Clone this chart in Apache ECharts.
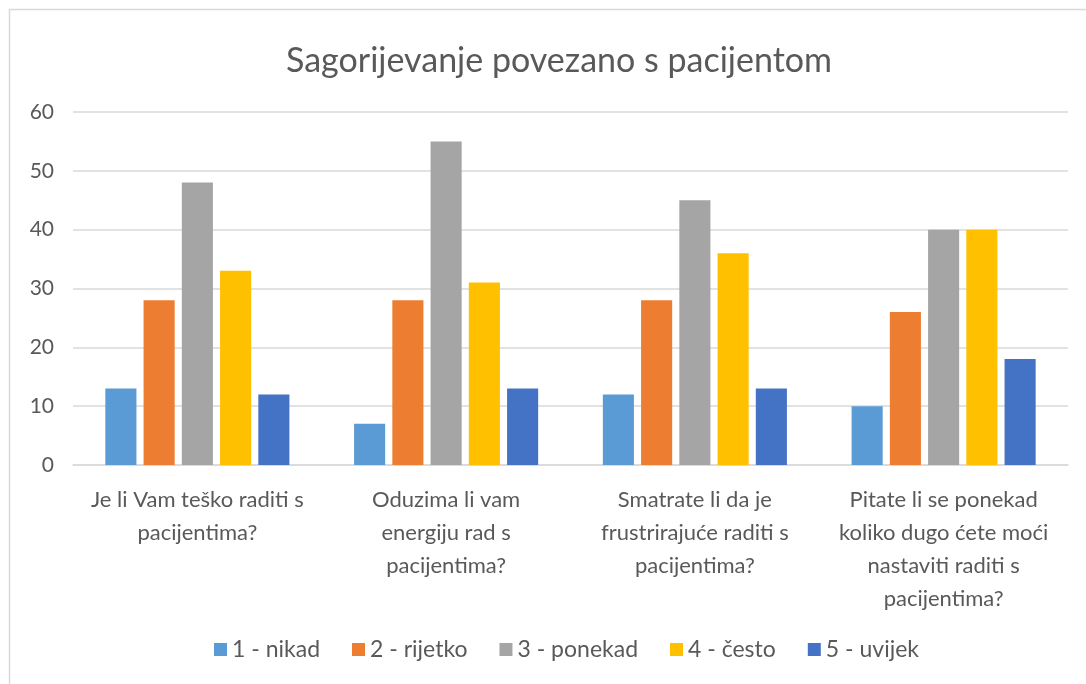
<!DOCTYPE html>
<html lang="hr">
<head>
    <meta charset="UTF-8">
    <title>Sagorijevanje povezano s pacijentom</title>
    <script src="https://cdn.jsdelivr.net/npm/echarts@6/dist/echarts.min.js"></script>
    <style>
        html, body { margin: 0; padding: 0; background: #fff; }
        #main { width: 1086px; height: 684px; }
    </style>
</head>
<body>
    <div id="main"></div>
    <script>
        var questions = [
            'Je li Vam teško raditi s\npacijentima?',
            'Oduzima li vam\nenergiju rad s\npacijentima?',
            'Smatrate li da je\nfrustrirajuće raditi s\npacijentima?',
            'Pitate li se ponekad\nkoliko dugo ćete moći\nnastaviti raditi s\npacijentima?'
        ];
        var answerNames = ['1 - nikad', '2 - rijetko', '3 - ponekad', '4 - često', '5 - uvijek'];
        var nikad   = [13, 7, 12, 10];
        var rijetko = [28, 28, 28, 26];
        var ponekad = [48, 55, 45, 40];
        var cesto   = [33, 31, 36, 40];
        var uvijek  = [12, 13, 13, 18];
        var colors = ['#5B9BD5', '#ED7D31', '#A5A5A5', '#FFC000', '#4472C4'];

        var seriesValues = [nikad, rijetko, ponekad, cesto, uvijek];
        var font = 'Lato, "Open Sans", sans-serif';

        var myChart = echarts.init(document.getElementById('main'));
        var option = {
            color: colors,
            textStyle: { fontFamily: font },
            graphic: [{
                type: 'rect',
                shape: { x: 9.5, y: 9.5, width: 1100, height: 700 },
                style: { fill: 'none', stroke: '#d9d9d9', lineWidth: 1.5 },
                silent: true
            }],
            title: {
                text: 'Sagorijevanje povezano s pacijentom',
                left: 554,
                textAlign: 'center',
                top: 39,
                textStyle: { fontSize: 34, fontWeight: 'normal', color: '#595959', fontFamily: font }
            },
            legend: {
                data: answerNames,
                bottom: 18,
                left: 209,
                itemWidth: 13,
                itemHeight: 13,
                itemGap: 32,
                icon: 'rect',
                textStyle: { fontSize: 23, color: '#595959', fontFamily: font }
            },
            grid: { left: 73, right: 18, top: 112, bottom: 219, containLabel: false },
            xAxis: {
                type: 'category',
                data: questions,
                axisLine: { lineStyle: { color: '#d9d9d9', width: 1.5 } },
                axisTick: { show: false },
                axisLabel: {
                    interval: 0,
                    fontSize: 22,
                    lineHeight: 33,
                    color: '#595959',
                    margin: 18,
                    fontFamily: font
                }
            },
            yAxis: {
                type: 'value',
                min: 0,
                max: 60,
                interval: 10,
                axisLine: { show: false },
                axisTick: { show: false },
                splitLine: { lineStyle: { color: '#d9d9d9', width: 1.5 } },
                axisLabel: { fontSize: 21, color: '#595959', margin: 19, fontFamily: font }
            },
            series: answerNames.map(function (name, i) {
                return {
                    name: name,
                    type: 'bar',
                    data: seriesValues[i],
                    barGap: '23%',
                    barCategoryGap: '26%',
                    itemStyle: { color: colors[i] }
                };
            })
        };
        myChart.setOption(option);
    </script>
</body>
</html>
